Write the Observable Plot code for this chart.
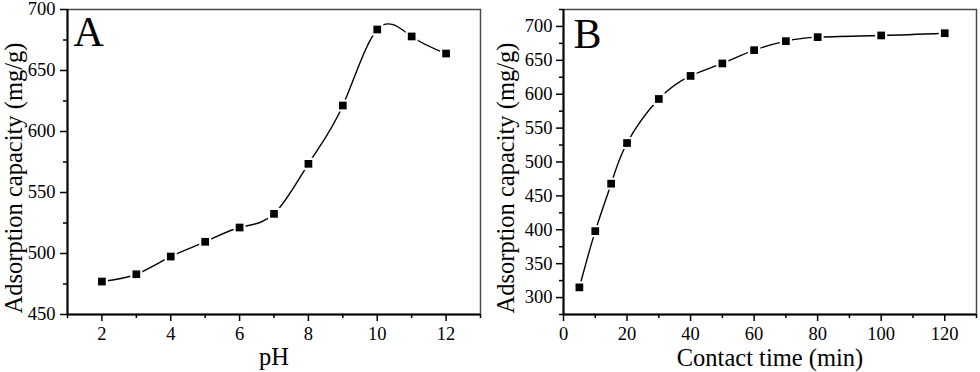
<!DOCTYPE html>
<html>
<head>
<meta charset="utf-8">
<script src="https://cdn.jsdelivr.net/npm/d3@7"></script>
<script src="https://cdn.jsdelivr.net/npm/@observablehq/plot@0.6"></script>
<style>
  html, body { margin: 0; padding: 0; background: #fff; }
  #wrap { display: flex; flex-direction: row; width: 980px; height: 372px; }
  svg { overflow: visible; }
  svg text { font-family: 'Liberation Serif', 'Times New Roman', serif !important; }
  svg g[aria-label="x-axis tick label"], svg g[aria-label="y-axis tick label"] { font-size: 18.5px !important; }
</style>
</head>
<body>
<div id="wrap"></div>
<script>
// Panel A: adsorption capacity vs pH
const phValues = [2, 3, 4, 5, 6, 7, 8, 9, 10, 11, 12];
const phCapacity = [477, 483, 497.5, 509.6, 521.3, 532.5, 573.5, 621.3, 683.6, 677.9, 663.9];
const phMajorTicks = [2, 4, 6, 8, 10, 12];
const phMinorTicks = [1, 3, 5, 7, 9, 11, 13];
const capAMajorTicks = [450, 500, 550, 600, 650, 700];
const capAMinorTicks = [475, 525, 575, 625, 675];

// Panel B: adsorption capacity vs contact time
const timeValues = [5, 10, 15, 20, 30, 40, 50, 60, 70, 80, 100, 120];
const timeCapacity = [315, 398, 468, 528, 593, 627, 645.4, 665, 678.3, 684.2, 686.7, 690];
const timeMajorTicks = [0, 20, 40, 60, 80, 100, 120];
const timeMinorTicks = [10, 30, 50, 70, 90, 110, 130];
const capBMajorTicks = [300, 350, 400, 450, 500, 550, 600, 650, 700];
const capBMinorTicks = [275, 325, 375, 425, 475, 525, 575, 625, 675, 725];

const yLabel = "Adsorption capacity (mg/g)";
const serif = "'Liberation Serif', 'Times New Roman', serif";

function panel(o) {
  const data = o.xs.map((x, i) => ({x, y: o.ys[i]}));
  return Plot.plot({
    width: 490,
    height: 372,
    marginLeft: o.marginLeft,
    marginRight: o.marginRight,
    marginTop: 9,
    marginBottom: 58,
    style: {fontFamily: serif, fontSize: "18px", color: "black", background: "white", overflow: "visible"},
    x: {domain: o.xDomain, label: null},
    y: {domain: o.yDomain, label: null},
    marks: [
      Plot.frame({stroke: "#4a4a4a", strokeWidth: 1.5}),
      Plot.axisX({ticks: o.xMajor, tickSize: 7, tickPadding: 5, strokeWidth: 1.5, fontSize: 18.5, fontFamily: serif, label: null, tickFormat: d => String(d)}),
      Plot.axisX({ticks: o.xMinor, tickSize: 4, strokeWidth: 1.5, label: null, tickFormat: () => ""}),
      Plot.axisY({ticks: o.yMajor, tickSize: 7, tickPadding: o.yPad, strokeWidth: 1.5, fontSize: 18.5, fontFamily: serif, label: null, tickFormat: d => String(d)}),
      Plot.axisY({ticks: o.yMinor, tickSize: 4, strokeWidth: 1.5, label: null, tickFormat: () => ""}),
      Plot.ruleX([o.xDomain[0]], {stroke: "black", strokeWidth: 2}),
      Plot.ruleY([o.yDomain[0]], {stroke: "black", strokeWidth: 2}),
      Plot.line(data, {x: "x", y: "y", curve: "natural", stroke: "black", strokeWidth: 1.4}),
      Plot.dot(data, {x: "x", y: "y", symbol: "square", r: 6.8, fill: "white", stroke: "none"}),
      Plot.dot(data, {x: "x", y: "y", symbol: "square", r: 4.35, fill: "black", stroke: "none"}),
      Plot.text([o.letter], {frameAnchor: "top-left", textAnchor: "start", lineAnchor: "top", dx: o.letterDx, dy: o.letterDy, fontSize: 42, fill: "black"}),
      Plot.text([o.xLabel], {frameAnchor: "bottom", textAnchor: "middle", lineAnchor: "bottom", dy: o.xLabelDy, fontSize: 24.5, fill: "black"}),
      Plot.text([yLabel], {frameAnchor: "left", textAnchor: "middle", lineAnchor: "bottom", rotate: -90, dx: o.yLabelDx, dy: 16, fontSize: 24.5, fill: "black"})
    ]
  });
}

const wrap = document.getElementById("wrap");
wrap.appendChild(panel({
  xs: phValues, ys: phCapacity,
  xDomain: [1, 13], yDomain: [450, 700],
  xMajor: phMajorTicks, xMinor: phMinorTicks,
  yMajor: capAMajorTicks, yMinor: capAMinorTicks,
  marginLeft: 67, marginRight: 10, yPad: 5,
  letter: "A", letterDx: 6, letterDy: 7,
  xLabel: "pH", xLabelDy: 50, yLabelDx: -46
}));
wrap.appendChild(panel({
  xs: timeValues, ys: timeCapacity,
  xDomain: [0, 130], yDomain: [275, 725],
  xMajor: timeMajorTicks, xMinor: timeMinorTicks,
  yMajor: capBMajorTicks, yMinor: capBMinorTicks,
  marginLeft: 73, marginRight: 4, yPad: 4,
  letter: "B", letterDx: 10, letterDy: 9,
  xLabel: "Contact time (min)", xLabelDy: 51, yLabelDx: -50
}));
</script>
</body>
</html>
